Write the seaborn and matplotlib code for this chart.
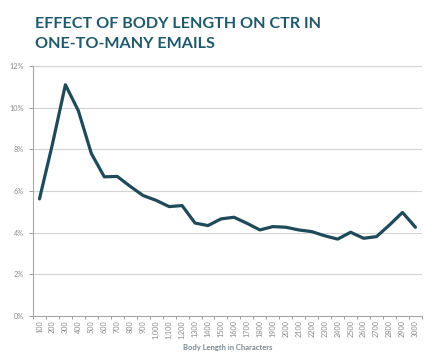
import matplotlib
matplotlib.use("Agg")
import matplotlib.pyplot as plt
from matplotlib.ticker import FixedLocator
import seaborn as sns
import pandas as pd

categories = ["100", "200", "300", "400", "500", "600", "700", "800", "900",
              "1,000", "1,100", "1,200", "1300", "1400", "1500", "1600", "1700",
              "1800", "1900", "2000", "2100", "2200", "2300", "2400", "2500",
              "2600", "2700", "2800", "2900", "3000"]
ctr = [5.62, 8.25, 11.1, 9.85, 7.8, 6.68, 6.7, 6.22, 5.78, 5.55, 5.25, 5.3,
       4.46, 4.34, 4.66, 4.74, 4.45, 4.13, 4.29, 4.26, 4.13, 4.05, 3.85, 3.69,
       4.02, 3.73, 3.81, 4.37, 4.97, 4.26]
yticks = [0, 2, 4, 6, 8, 10, 12]

sns.set_style("white")
plt.rcParams['font.family'] = ['Lato', 'DejaVu Sans']

df = pd.DataFrame({"pos": range(len(categories)), "ctr": ctr})

fig = plt.figure(figsize=(4.37, 3.61), dpi=100)
ax = fig.add_axes([0.0755, 0.1247, 0.890, 0.6925])
sns.lineplot(data=df, x="pos", y="ctr", ax=ax, color="#1f4a5a", linewidth=2.3)

ax.set_xlim(-0.5, len(categories) - 0.5)
ax.set_ylim(0, 12)
ax.set_yticks(yticks)
ax.set_yticklabels([f"{v}%" for v in yticks])
ax.yaxis.grid(True, color="#d3d3d3", linewidth=0.8)
ax.set_axisbelow(True)

ax.set_xticks(range(len(categories)))
ax.set_xticklabels(categories, rotation=90, fontsize=5.2, color="#8a8a8a")
ax.xaxis.set_minor_locator(FixedLocator([i - 0.5 for i in range(len(categories) + 1)]))
ax.tick_params(axis="x", which="major", length=0, pad=3)
ax.tick_params(axis="x", which="minor", length=2.5, color="#9a9a9a", width=0.7, bottom=True)
ax.tick_params(axis="y", labelsize=5.2, labelcolor="#8a8a8a", length=3, color="#9a9a9a", width=0.7, left=True)

for s in ["top", "right"]:
    ax.spines[s].set_visible(False)
for s in ["left", "bottom"]:
    ax.spines[s].set_color("#a8a8a8")
    ax.spines[s].set_linewidth(0.8)

ax.set_xlabel("Body Length in Characters", fontsize=5.5, color="#7a8a90",
              fontweight="bold", labelpad=4)
ax.set_ylabel("")

fig.text(0.081, 0.9216, "EFFECT OF BODY LENGTH ON CTR IN", fontsize=11.6,
         fontweight="bold", color="#1f5a6c", ha="left", va="baseline")
fig.text(0.081, 0.866, "ONE-TO-MANY EMAILS", fontsize=11.6,
         fontweight="bold", color="#1f5a6c", ha="left", va="baseline")

fig.savefig("out.png", dpi=100)
